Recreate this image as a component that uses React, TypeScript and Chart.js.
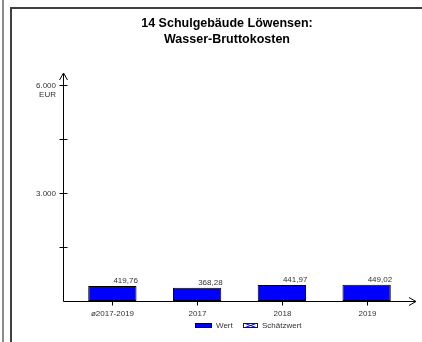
import React, { useEffect, useRef } from "react";
import { Chart, registerables } from "chart.js";

Chart.register(...registerables);

const titleLines = ["14 Schulgebäude Löwensen:", "Wasser-Bruttokosten"];
const categories = ["ø2017-2019", "2017", "2018", "2019"];
const values = [419.76, 368.28, 441.97, 449.02];
const valueLabels = ["419,76", "368,28", "441,97", "449,02"];
const yTicks = [0, 1500, 3000, 4500, 6000];
const yTickLabels = ["", "", "3.000", "", "6.000"];
const yUnit = "EUR";
const legendLabels = ["Wert", "Schätzwert"];

const FONT = '"Liberation Sans", Arial, sans-serif';

const decorPlugin = {
  id: "decor",
  afterDraw(chart: any) {
    const ctx = chart.ctx as CanvasRenderingContext2D;
    const x = chart.scales.x;
    const y = chart.scales.y;
    ctx.save();

    // frame
    ctx.strokeStyle = "#8a8a8a";
    ctx.lineWidth = 2;
    ctx.beginPath();
    ctx.moveTo(3, 0);
    ctx.lineTo(3, 342);
    ctx.stroke();
    ctx.strokeStyle = "#404040";
    ctx.lineWidth = 2;
    ctx.beginPath();
    ctx.moveTo(11, 342);
    ctx.lineTo(11, 8);
    ctx.lineTo(422, 8);
    ctx.stroke();

    // title
    ctx.fillStyle = "#000";
    ctx.font = "bold 12.5px " + FONT;
    ctx.textAlign = "center";
    ctx.textBaseline = "middle";
    ctx.fillText(titleLines[0], 227, 24);
    ctx.fillText(titleLines[1], 227, 40);

    const axisX = 63.5;
    const y0 = Math.round(y.getPixelForValue(0)) + 0.5;

    // axes
    ctx.strokeStyle = "#000";
    ctx.lineWidth = 1;
    ctx.beginPath();
    ctx.moveTo(axisX, y0);
    ctx.lineTo(axisX, 74);
    ctx.moveTo(axisX - 4, 80);
    ctx.lineTo(axisX, 73);
    ctx.lineTo(axisX + 4, 80);
    ctx.moveTo(axisX, y0);
    ctx.lineTo(415, y0);
    ctx.moveTo(409, y0 - 4);
    ctx.lineTo(416, y0);
    ctx.lineTo(409, y0 + 4);
    ctx.stroke();

    // y ticks
    ctx.font = "8px " + FONT;
    ctx.fillStyle = "#333";
    ctx.textAlign = "right";
    ctx.textBaseline = "middle";
    yTicks.forEach((v, i) => {
      if (v === 0) return;
      const py = Math.round(y.getPixelForValue(v)) + 0.5;
      ctx.beginPath();
      ctx.moveTo(axisX - 4, py);
      ctx.lineTo(axisX + 4, py);
      ctx.stroke();
      if (yTickLabels[i]) ctx.fillText(yTickLabels[i], 56, py);
      if (i === yTicks.length - 1) ctx.fillText(yUnit, 56, py + 9);
    });

    // x ticks & labels
    ctx.textAlign = "center";
    ctx.textBaseline = "middle";
    categories.forEach((c, i) => {
      const px = Math.round(x.getPixelForValue(i)) + 0.5;
      ctx.beginPath();
      ctx.moveTo(px, y0);
      ctx.lineTo(px, y0 + 4);
      ctx.stroke();
      ctx.fillText(c, px, y0 + 12);
    });

    // value labels
    const meta = chart.getDatasetMeta(0);
    ctx.textAlign = "left";
    ctx.textBaseline = "bottom";
    meta.data.forEach((bar: any, i: number) => {
      ctx.fillText(valueLabels[i], bar.x + 1, bar.y - 1);
    });

    // legend
    ctx.fillStyle = "#0000ff";
    ctx.fillRect(195, 323, 17, 5);
    ctx.strokeStyle = "#000";
    ctx.strokeRect(195.5, 323.5, 16, 4);
    ctx.fillStyle = "#333";
    ctx.textAlign = "left";
    ctx.textBaseline = "middle";
    ctx.fillText(legendLabels[0], 216, 326);
    // hatched box
    ctx.fillStyle = "#fff";
    ctx.fillRect(243, 323, 15, 5);
    ctx.strokeStyle = "#0000ff";
    ctx.lineWidth = 1;
    ctx.strokeRect(243.5, 323.5, 14, 4);
    ctx.beginPath();
    ctx.moveTo(245, 323.5);
    ctx.lineTo(256, 327.5);
    ctx.moveTo(245, 327.5);
    ctx.lineTo(256, 323.5);
    ctx.stroke();
    ctx.fillStyle = "#333";
    ctx.fillText(legendLabels[1], 262, 326);

    ctx.restore();
  },
};

export default function App() {
  const ref = useRef<HTMLCanvasElement>(null);
  useEffect(() => {
    if (!ref.current) return;
    const chart = new Chart(ref.current, {
      type: "bar",
      data: {
        labels: categories,
        datasets: [
          {
            label: legendLabels[0],
            data: values,
            backgroundColor: "#0000ff",
            borderColor: "#000",
            borderWidth: 1,
            borderSkipped: false,
            categoryPercentage: 1,
            barPercentage: 0.57,
          },
        ],
      },
      options: {
        responsive: false,
        animation: false,
        layout: { padding: { left: 70, right: 13, top: 85, bottom: 41 } },
        plugins: { legend: { display: false }, title: { display: false }, tooltip: { enabled: false } },
        scales: {
          x: { display: false, offset: true },
          y: { display: false, min: 0, max: 6000 },
        },
      },
      plugins: [decorPlugin],
    });
    return () => chart.destroy();
  }, []);
  return (
    <div style={{ position: "absolute", left: 0, top: 0, width: 422, height: 342, background: "#fff" }}>
      <canvas ref={ref} width={422} height={342} style={{ width: 422, height: 342, display: "block" }} />
    </div>
  );
}
